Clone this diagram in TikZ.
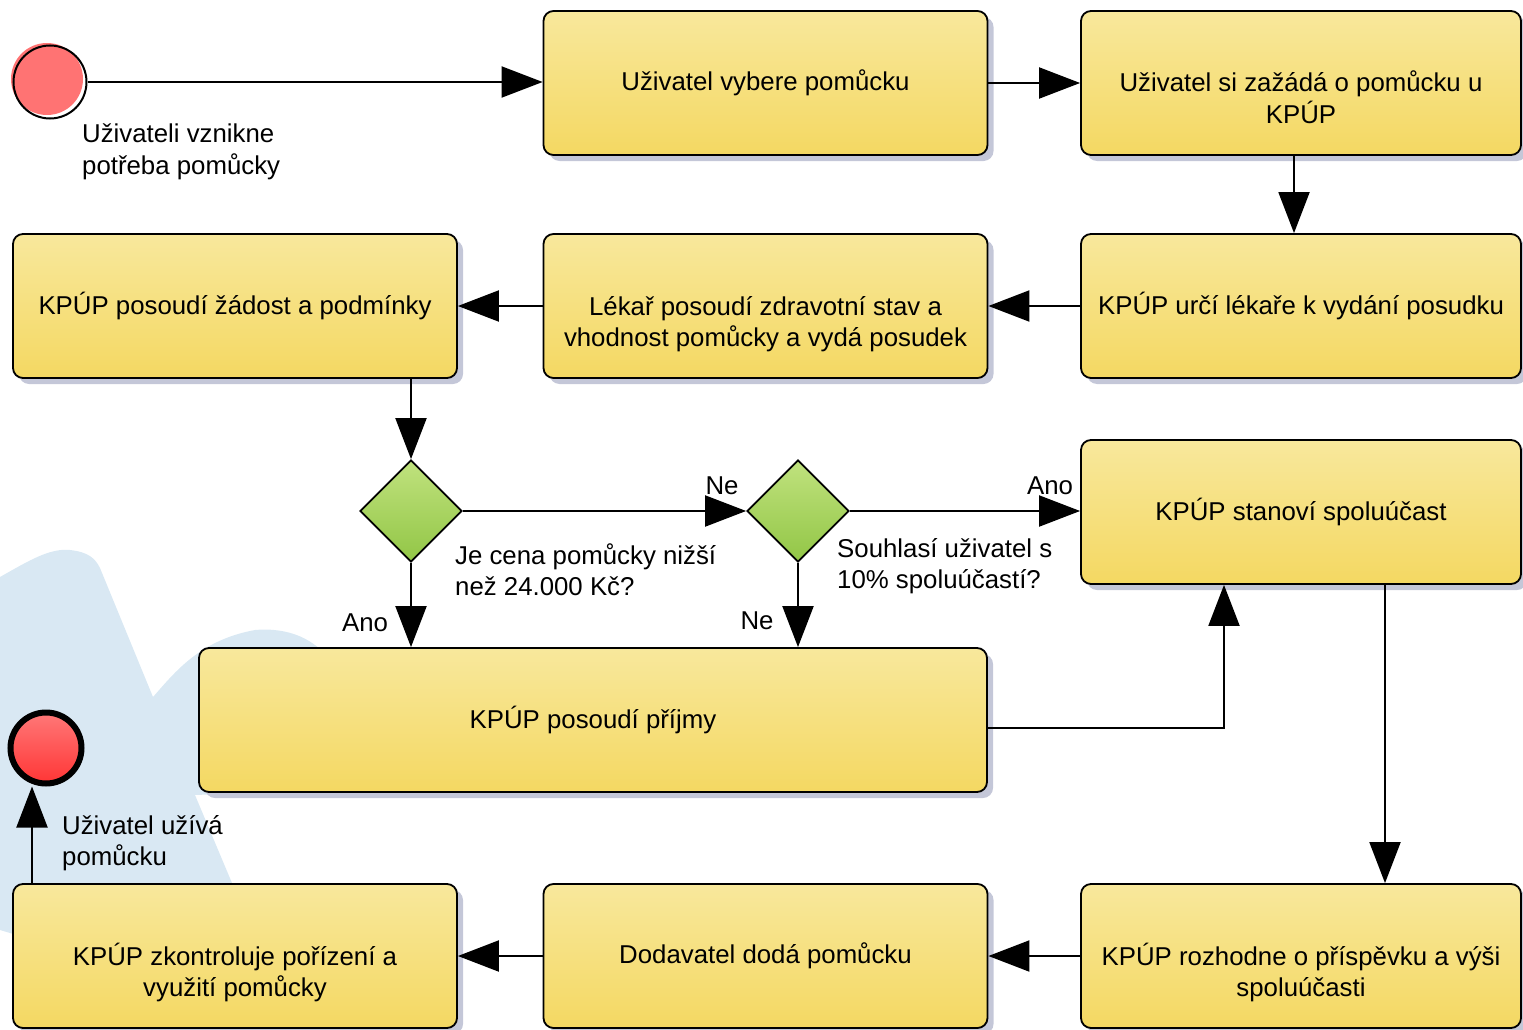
\documentclass[tikz,border=0pt]{standalone}
\usepackage{fontspec}
\setmainfont{Liberation Sans}
\usetikzlibrary{arrows.meta,shapes.geometric,shadows}
\definecolor{taskTop}{HTML}{F8E89C}
\definecolor{taskBot}{HTML}{F4D862}
\definecolor{gateTop}{HTML}{C0E27E}
\definecolor{gateBot}{HTML}{92C646}
\definecolor{startRed}{HTML}{FF7373}
\definecolor{endTop}{HTML}{FF7878}
\definecolor{endBot}{HTML}{FF3535}
\definecolor{shadowGrey}{HTML}{C4C7D8}
\definecolor{wmark}{HTML}{D9E8F3}
\def\bpmnfont{\fontsize{25.8}{31.5}\selectfont}
\def\twolines#1#2{\begin{tabular}[t]{@{}c@{}}#1\\#2\end{tabular}}
\tikzset{
	task/.style={draw, line width=1.8pt, rounded corners=10pt, top color=taskTop, bottom color=taskBot, minimum width=444pt, minimum height=144pt, inner sep=0pt, font=\bpmnfont, drop shadow={shadow xshift=6pt, shadow yshift=-6pt, fill=shadowGrey, opacity=1}},
	twoline/.style={text height=49pt, text depth=31pt},
	gate/.style={diamond, draw, line width=1.8pt, top color=gateTop, bottom color=gateBot, minimum width=102pt, minimum height=102pt, inner sep=0pt},
	flow/.style={line width=2pt, -{Triangle[length=41pt,width=31pt]}},
	lbl/.style={font=\bpmnfont, inner sep=0pt, align=left},
}

\begin{document}
\begin{tikzpicture}[x=1pt,y=-1pt]
			%%%%% START %%%%%
			\def\xl{235}
			\def\xm{765.5}
			\def\xr{1301}
			\def\yone{83}
			\def\ytwo{306}
			\def\yfour{956}
			
			\useasboundingbox (0,0) rectangle (1523,1030);
			
			% watermark in the background
			\fill[wmark] (0,577) .. controls (30,560) and (50,548) .. (70,550) .. controls (88,552) and (95,558) .. (100,568) -- (153,697) .. controls (175,672) and (200,640) .. (255,630) .. controls (290,627) and (315,640) .. (330,660) -- (330,790) -- (195,795) -- (232,883) -- (232,1000) -- (0,930) -- cycle;
			
			% events
			\fill[startRed] (47,79) circle (36);
			\node[circle, draw, line width=2pt, minimum size=73pt, inner sep=0pt] (start) at (50,82) {};
			\node[circle, draw, line width=6pt, minimum size=71pt, inner sep=0pt, top color=endTop, bottom color=endBot] (konec) at (46,748) {};
			
			% tasks
			\node[task] (vyber) at (\xm,\yone) {Uživatel vybere pomůcku};
			\node[task, twoline, minimum width=440pt] (zadost) at (\xr,\yone) {\twolines{Uživatel si zažádá o pomůcku u}{KPÚP}};
			\node[task, minimum width=440pt] (urceni) at (\xr,\ytwo) {KPÚP určí lékaře k vydání posudku};
			\node[task, twoline] (posudek) at (\xm,\ytwo) {\twolines{Lékař posoudí zdravotní stav a}{vhodnost pomůcky a vydá posudek}};
			\node[task] (podminky) at (\xl,\ytwo) {KPÚP posoudí žádost a podmínky};
			\node[task, minimum width=440pt] (spoluucast) at (\xr,512) {KPÚP stanoví spoluúčast};
			\node[task, minimum width=788pt] (prijmy) at (593,720) {KPÚP posoudí příjmy};
			\node[task, twoline, minimum width=440pt] (rozhodnuti) at (\xr,\yfour) {\twolines{KPÚP rozhodne o příspěvku a výši}{spoluúčasti}};
			\node[task] (dodani) at (\xm,\yfour) {Dodavatel dodá pomůcku};
			\node[task, twoline] (kontrola) at (\xl,\yfour) {\twolines{KPÚP zkontroluje pořízení a}{využití pomůcky}};
			
			% gateways
			\node[gate] (cena) at (411,511) {};
			\node[gate] (souhlas) at (798,511) {};
			
			% flows
			\draw[flow] (start) -- (start -| vyber.west);
			\draw[flow] (vyber) -- (zadost);
			\draw[flow] ([xshift=-7pt]zadost.south) -- ([xshift=-7pt]urceni.north);
			\draw[flow] (urceni) -- (posudek);
			\draw[flow] (posudek) -- (podminky);
			\draw[flow] (podminky.south -| cena) -- (cena);
			\draw[flow] (cena) -- (souhlas);
			\draw[flow] (souhlas) -- (souhlas -| spoluucast.west);
			\draw[flow] (cena) -- (cena |- prijmy.north);
			\draw[flow] (souhlas) -- (souhlas |- prijmy.north);
			\draw[flow] ([yshift=-8pt]prijmy.east) -| ([xshift=-77pt]spoluucast.south);
			\draw[flow] ([xshift=84pt]spoluucast.south) -- ([xshift=84pt]rozhodnuti.north);
			\draw[flow] (rozhodnuti) -- (dodani);
			\draw[flow] (dodani) -- (kontrola);
			\draw[flow] ([xshift=-203pt]kontrola.north) -- ([xshift=-14pt]konec.south);
			
			% labels
			\node[lbl, anchor=north west] (startlbl) at (82,124) {Uživateli vznikne\\potřeba pomůcky};
			\node[lbl, anchor=north west] (cenalbl) at (455,543) {Je cena pomůcky nižší\\než 24.000 Kč?};
			\node[lbl, anchor=north west] (souhlaslbl) at (837,538) {Souhlasí uživatel s\\10\% spoluúčastí?};
			\node[lbl, anchor=north west] (koneclbl) at (62,815) {Uživatel užívá\\pomůcku};
			\node[lbl, anchor=base] (ne1) at (722,494) {Ne};
			\node[lbl, anchor=base] (ano1) at (1050,494) {Ano};
			\node[lbl, anchor=base] (ano2) at (365,631) {Ano};
			\node[lbl, anchor=base] (ne2) at (757,629) {Ne};
			%%%%% END %%%%%
\end{tikzpicture}
\end{document}
